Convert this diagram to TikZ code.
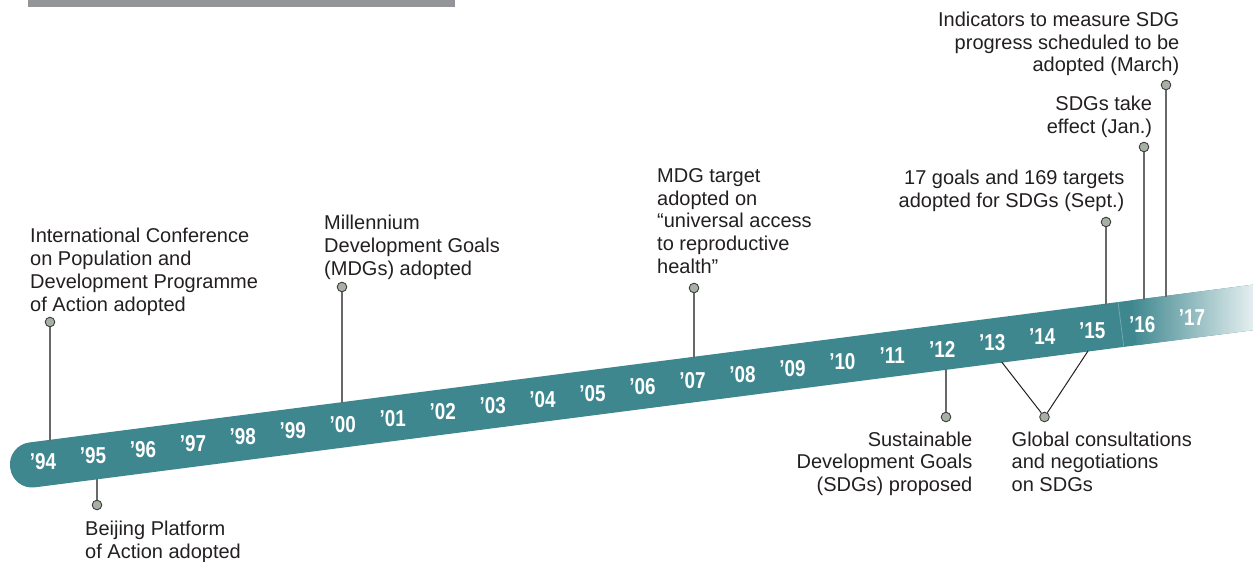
\documentclass[tikz,border=0pt]{standalone}
\usepackage{fontspec}
\setmainfont{Liberation Sans}
\newfontfamily\yearfont{Liberation Sans}[FakeStretch=0.82]
\definecolor{bandcol}{RGB}{62,135,143}
\definecolor{txtcol}{RGB}{35,31,32}
\definecolor{linecol}{RGB}{105,105,108}
\definecolor{dotfill}{RGB}{168,176,166}
\definecolor{dotline}{RGB}{60,62,60}
\definecolor{barcol}{RGB}{147,149,152}
\tikzset{
  lbl/.style={inner sep=0pt, text=txtcol, font=\fontsize{20}{22.7}\selectfont},
  lblL/.style={lbl, anchor=north west, align=left},
  lblR/.style={lbl, anchor=north east, align=right},
  yr/.style={inner sep=0pt, text=white, font=\yearfont\bfseries\fontsize{23}{26}\selectfont},
  dot/.style={circle, draw=dotline, line width=0.9pt, fill=dotfill, minimum size=9.6pt, inner sep=0pt},
  conn/.style={draw=linecol, line width=1.5pt},
  vconn/.style={draw=txtcol, line width=1pt}
}
\begin{document}
\begin{tikzpicture}[x=1pt, y=-1pt]
\useasboundingbox (0,0) rectangle (1253,562);
\clip (0,0) rectangle (1253,562);
% top bar
\fill[barcol] (28,0) rectangle (455,6.8);
% band
\begin{scope}[shift={(33,464.8)}, rotate=7.35]
  \fill[bandcol, rounded corners=22pt] (-23,-22.61) rectangle (1300,22.61);
  \shade[left color=bandcol, right color=bandcol!5] (1110,-22.61) rectangle (1240,22.61);
  \fill[bandcol!5] (1239,-22.61) rectangle (1300,22.61);
  \draw[white, opacity=0.3, line width=0.7pt] (1097,-22.61) -- (1097,22.61);
\end{scope}
% band edge points
\coordinate (e94) at (50,441);
\coordinate (e95) at (97,478.5);
\coordinate (e00) at (342,403);
\coordinate (e07) at (694,357.5);
\coordinate (e12) at (946,369);
\coordinate (e13) at (1001.7,362);
\coordinate (e15b) at (1088,351);
\coordinate (e15) at (1106,304.5);
\coordinate (e16) at (1144,299.5);
\coordinate (e17) at (1166,296.8);
% dots
\node[dot] (c94) at (50,322) {};
\node[dot] (c95) at (97,505) {};
\node[dot] (c00) at (342,287) {};
\node[dot] (c07) at (694,288) {};
\node[dot] (c12) at (946,417) {};
\node[dot] (cv) at (1044.5,417) {};
\node[dot] (c15) at (1106,222) {};
\node[dot] (c16) at (1144,147) {};
\node[dot] (c17) at (1166,85) {};
% connectors
\draw[conn] (c94) -- (e94);
\draw[conn] (c95) -- (e95);
\draw[conn] (c00) -- (e00);
\draw[conn] (c07) -- (e07);
\draw[conn] (c12) -- (e12);
\draw[vconn] (cv) -- (e13);
\draw[vconn] (cv) -- (e15b);
\draw[conn] (c15) -- (e15);
\draw[conn] (c16) -- (e16);
\draw[conn] (c17) -- (e17);
% year labels
\foreach \y [count=\k from 0] in {94,95,96,97,98,99,00,01,02,03,04,05,06,07,08,09,10,11,12,13,14,15,16,17}{
  \node[yr] (y\y) at ({43+49.96*\k},{462-6.26*\k}) {’\y};
}
% event labels
\node[lblL] (t94) at (30,228.3) {International Conference\\on Population and\\Development Programme\\of Action adopted};
\node[lblL] (t95) at (85,520.7) {Beijing Platform\\of Action adopted};
\node[lblL] (t00) at (324,215) {Millennium\\Development Goals\\(MDGs) adopted};
\node[lblL] (t07) at (657,168.3) {MDG target\\adopted on\\“universal access\\to reproductive\\health”};
\node[lblR] (t12) at (972.5,431.5) {Sustainable\\Development Goals\\(SDGs) proposed};
\node[lblL] (tv) at (1011.5,431.5) {Global consultations\\and negotiations\\on SDGs};
\node[lblR] (t15) at (1124.5,170) {17 goals and 169 targets\\adopted for SDGs (Sept.)};
\node[lblR] (t16) at (1152.3,95.7) {SDGs take\\effect (Jan.)};
\node[lblR] (t17) at (1179.5,11.7) {Indicators to measure SDG\\progress scheduled to be\\adopted (March)};
\end{tikzpicture}
\end{document}
